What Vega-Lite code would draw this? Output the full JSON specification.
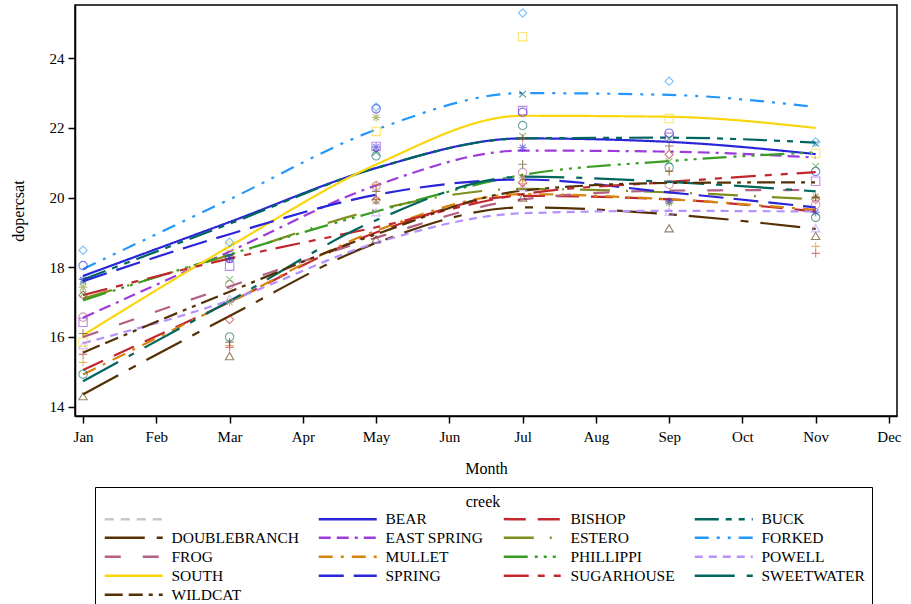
{
  "$schema": "https://vega.github.io/schema/vega-lite/v6.json",
  "width": 822,
  "height": 411,
  "autosize": {"type": "none"},
  "padding": {"left": 75, "top": 5, "right": 14, "bottom": 188},
  "background": "white",
  "config": {
    "view": {"stroke": "black", "strokeWidth": 1.5},
    "font": "Liberation Serif",
    "axis": {
      "labelFont": "Liberation Serif", "titleFont": "Liberation Serif",
      "labelFontSize": 15, "titleFontSize": 16, "titleFontWeight": "normal",
      "domainColor": "black", "tickColor": "black", "labelColor": "black", "titleColor": "black",
      "grid": false, "tickSize": 7, "domainWidth": 1.5, "tickWidth": 1.5
    },
    "legend": {
      "orient": "none", "legendX": 20, "legendY": 482, "columns": 4, "direction": "horizontal",
      "titleAnchor": "middle", "titleFont": "Liberation Serif", "titleFontSize": 16, "titleFontWeight": "normal", "titleColor": "black", "titlePadding": 1,
      "labelFont": "Liberation Serif", "labelFontSize": 15.5, "labelFontWeight": "normal", "labelColor": "black", "labelLimit": 0,
      "symbolType": "M-5.8,0H5.8", "symbolSize": 100, "symbolOffset": 24, "labelOffset": 30, "symbolStrokeWidth": 2.5,
      "strokeColor": "black", "padding": 7, "rowPadding": 2, "columnPadding": 14
    }
  },
  "datasets": {
    "fit": [
      {"creek": "BEAR", "month": 1, "fit": 17.75}, {"creek": "BEAR", "month": 3, "fit": 19.3}, {"creek": "BEAR", "month": 5, "fit": 20.85}, {"creek": "BEAR", "month": 7, "fit": 21.7}, {"creek": "BEAR", "month": 9, "fit": 21.6}, {"creek": "BEAR", "month": 11, "fit": 21.25},
      {"creek": "BISHOP", "month": 1, "fit": 15.05}, {"creek": "BISHOP", "month": 3, "fit": 17.0}, {"creek": "BISHOP", "month": 5, "fit": 19.0}, {"creek": "BISHOP", "month": 7, "fit": 20.05}, {"creek": "BISHOP", "month": 9, "fit": 19.95}, {"creek": "BISHOP", "month": 11, "fit": 19.6},
      {"creek": "BUCK", "month": 1, "fit": 17.65}, {"creek": "BUCK", "month": 3, "fit": 19.25}, {"creek": "BUCK", "month": 5, "fit": 20.85}, {"creek": "BUCK", "month": 7, "fit": 21.7}, {"creek": "BUCK", "month": 9, "fit": 21.72}, {"creek": "BUCK", "month": 11, "fit": 21.58},
      {"creek": "DOUBLEBRANCH", "month": 1, "fit": 14.35}, {"creek": "DOUBLEBRANCH", "month": 3, "fit": 16.6}, {"creek": "DOUBLEBRANCH", "month": 5, "fit": 18.7}, {"creek": "DOUBLEBRANCH", "month": 7, "fit": 19.72}, {"creek": "DOUBLEBRANCH", "month": 9, "fit": 19.52}, {"creek": "DOUBLEBRANCH", "month": 11, "fit": 19.1},
      {"creek": "EAST SPRING", "month": 1, "fit": 16.55}, {"creek": "EAST SPRING", "month": 3, "fit": 18.45}, {"creek": "EAST SPRING", "month": 5, "fit": 20.35}, {"creek": "EAST SPRING", "month": 7, "fit": 21.35}, {"creek": "EAST SPRING", "month": 9, "fit": 21.32}, {"creek": "EAST SPRING", "month": 11, "fit": 21.15},
      {"creek": "ESTERO", "month": 1, "fit": 17.1}, {"creek": "ESTERO", "month": 3, "fit": 18.35}, {"creek": "ESTERO", "month": 5, "fit": 19.65}, {"creek": "ESTERO", "month": 7, "fit": 20.25}, {"creek": "ESTERO", "month": 9, "fit": 20.15}, {"creek": "ESTERO", "month": 11, "fit": 19.95},
      {"creek": "FORKED", "month": 1, "fit": 17.95}, {"creek": "FORKED", "month": 3, "fit": 19.95}, {"creek": "FORKED", "month": 5, "fit": 21.95}, {"creek": "FORKED", "month": 7, "fit": 23.0}, {"creek": "FORKED", "month": 9, "fit": 22.95}, {"creek": "FORKED", "month": 11, "fit": 22.6},
      {"creek": "FROG", "month": 1, "fit": 16.0}, {"creek": "FROG", "month": 3, "fit": 17.45}, {"creek": "FROG", "month": 5, "fit": 18.85}, {"creek": "FROG", "month": 7, "fit": 19.95}, {"creek": "FROG", "month": 9, "fit": 20.2}, {"creek": "FROG", "month": 11, "fit": 20.22},
      {"creek": "MULLET", "month": 1, "fit": 14.92}, {"creek": "MULLET", "month": 3, "fit": 17.0}, {"creek": "MULLET", "month": 5, "fit": 19.05}, {"creek": "MULLET", "month": 7, "fit": 20.1}, {"creek": "MULLET", "month": 9, "fit": 19.95}, {"creek": "MULLET", "month": 11, "fit": 19.65},
      {"creek": "PHILLIPPI", "month": 1, "fit": 17.05}, {"creek": "PHILLIPPI", "month": 3, "fit": 18.37}, {"creek": "PHILLIPPI", "month": 5, "fit": 19.6}, {"creek": "PHILLIPPI", "month": 7, "fit": 20.65}, {"creek": "PHILLIPPI", "month": 9, "fit": 21.05}, {"creek": "PHILLIPPI", "month": 11, "fit": 21.3},
      {"creek": "POWELL", "month": 1, "fit": 15.82}, {"creek": "POWELL", "month": 3, "fit": 17.05}, {"creek": "POWELL", "month": 5, "fit": 18.7}, {"creek": "POWELL", "month": 7, "fit": 19.55}, {"creek": "POWELL", "month": 9, "fit": 19.62}, {"creek": "POWELL", "month": 11, "fit": 19.6},
      {"creek": "SOUTH", "month": 1, "fit": 16.05}, {"creek": "SOUTH", "month": 3, "fit": 18.6}, {"creek": "SOUTH", "month": 5, "fit": 20.95}, {"creek": "SOUTH", "month": 7, "fit": 22.35}, {"creek": "SOUTH", "month": 9, "fit": 22.32}, {"creek": "SOUTH", "month": 11, "fit": 22.0},
      {"creek": "SPRING", "month": 1, "fit": 17.6}, {"creek": "SPRING", "month": 3, "fit": 18.95}, {"creek": "SPRING", "month": 5, "fit": 20.08}, {"creek": "SPRING", "month": 7, "fit": 20.52}, {"creek": "SPRING", "month": 9, "fit": 20.15}, {"creek": "SPRING", "month": 11, "fit": 19.72},
      {"creek": "SUGARHOUSE", "month": 1, "fit": 17.2}, {"creek": "SUGARHOUSE", "month": 3, "fit": 18.25}, {"creek": "SUGARHOUSE", "month": 5, "fit": 19.15}, {"creek": "SUGARHOUSE", "month": 7, "fit": 20.1}, {"creek": "SUGARHOUSE", "month": 9, "fit": 20.45}, {"creek": "SUGARHOUSE", "month": 11, "fit": 20.73},
      {"creek": "SWEETWATER", "month": 1, "fit": 14.73}, {"creek": "SWEETWATER", "month": 3, "fit": 17.03}, {"creek": "SWEETWATER", "month": 5, "fit": 19.35}, {"creek": "SWEETWATER", "month": 7, "fit": 20.6}, {"creek": "SWEETWATER", "month": 9, "fit": 20.45}, {"creek": "SWEETWATER", "month": 11, "fit": 20.18},
      {"creek": "WILDCAT", "month": 1, "fit": 15.55}, {"creek": "WILDCAT", "month": 3, "fit": 17.3}, {"creek": "WILDCAT", "month": 5, "fit": 18.95}, {"creek": "WILDCAT", "month": 7, "fit": 20.2}, {"creek": "WILDCAT", "month": 9, "fit": 20.42}, {"creek": "WILDCAT", "month": 11, "fit": 20.44}
    ],
    "obs": [
      {"creek": "BEAR", "month": 1, "v": 18.05}, {"creek": "BEAR", "month": 3, "v": 18.25}, {"creek": "BEAR", "month": 5, "v": 22.55}, {"creek": "BEAR", "month": 7, "v": 22.45}, {"creek": "BEAR", "month": 9, "v": 21.85}, {"creek": "BEAR", "month": 11, "v": 20.75},
      {"creek": "BISHOP", "month": 1, "v": 15.5}, {"creek": "BISHOP", "month": 3, "v": 15.7}, {"creek": "BISHOP", "month": 5, "v": 19.95}, {"creek": "BISHOP", "month": 7, "v": 21.7}, {"creek": "BISHOP", "month": 9, "v": 20.75}, {"creek": "BISHOP", "month": 11, "v": 18.4},
      {"creek": "BUCK", "month": 1, "v": 17.6}, {"creek": "BUCK", "month": 3, "v": 18.3}, {"creek": "BUCK", "month": 5, "v": 21.3}, {"creek": "BUCK", "month": 7, "v": 22.97}, {"creek": "BUCK", "month": 9, "v": 21.7}, {"creek": "BUCK", "month": 11, "v": 21.55},
      {"creek": "DOUBLEBRANCH", "month": 1, "v": 14.3}, {"creek": "DOUBLEBRANCH", "month": 3, "v": 15.45}, {"creek": "DOUBLEBRANCH", "month": 5, "v": 18.8}, {"creek": "DOUBLEBRANCH", "month": 7, "v": 20.0}, {"creek": "DOUBLEBRANCH", "month": 9, "v": 19.12}, {"creek": "DOUBLEBRANCH", "month": 11, "v": 18.9},
      {"creek": "EAST SPRING", "month": 1, "v": 16.42}, {"creek": "EAST SPRING", "month": 3, "v": 18.03}, {"creek": "EAST SPRING", "month": 5, "v": 21.47}, {"creek": "EAST SPRING", "month": 7, "v": 22.5}, {"creek": "EAST SPRING", "month": 9, "v": 21.73}, {"creek": "EAST SPRING", "month": 11, "v": 20.47},
      {"creek": "ESTERO", "month": 1, "v": 17.43}, {"creek": "ESTERO", "month": 3, "v": 17.0}, {"creek": "ESTERO", "month": 5, "v": 22.3}, {"creek": "ESTERO", "month": 7, "v": 20.57}, {"creek": "ESTERO", "month": 9, "v": 19.85}, {"creek": "ESTERO", "month": 11, "v": 20.03},
      {"creek": "FORKED", "month": 1, "v": 18.49}, {"creek": "FORKED", "month": 3, "v": 18.72}, {"creek": "FORKED", "month": 5, "v": 22.6}, {"creek": "FORKED", "month": 7, "v": 25.3}, {"creek": "FORKED", "month": 9, "v": 23.34}, {"creek": "FORKED", "month": 11, "v": 21.6},
      {"creek": "FROG", "month": 1, "v": 16.57}, {"creek": "FROG", "month": 3, "v": 17.5}, {"creek": "FROG", "month": 5, "v": 20.33}, {"creek": "FROG", "month": 7, "v": 20.72}, {"creek": "FROG", "month": 9, "v": 20.38}, {"creek": "FROG", "month": 11, "v": 19.8},
      {"creek": "MULLET", "month": 1, "v": 15.27}, {"creek": "MULLET", "month": 3, "v": 15.75}, {"creek": "MULLET", "month": 5, "v": 20.38}, {"creek": "MULLET", "month": 7, "v": 20.4}, {"creek": "MULLET", "month": 9, "v": 20.76}, {"creek": "MULLET", "month": 11, "v": 18.6},
      {"creek": "PHILLIPPI", "month": 1, "v": 17.23}, {"creek": "PHILLIPPI", "month": 3, "v": 17.65}, {"creek": "PHILLIPPI", "month": 5, "v": 19.9}, {"creek": "PHILLIPPI", "month": 7, "v": 21.76}, {"creek": "PHILLIPPI", "month": 9, "v": 21.04}, {"creek": "PHILLIPPI", "month": 11, "v": 20.9},
      {"creek": "POWELL", "month": 1, "v": 15.76}, {"creek": "POWELL", "month": 3, "v": 17.1}, {"creek": "POWELL", "month": 5, "v": 19.58}, {"creek": "POWELL", "month": 7, "v": 20.3}, {"creek": "POWELL", "month": 9, "v": 19.6}, {"creek": "POWELL", "month": 11, "v": 19.12},
      {"creek": "SOUTH", "month": 1, "v": 15.85}, {"creek": "SOUTH", "month": 3, "v": 18.6}, {"creek": "SOUTH", "month": 5, "v": 21.9}, {"creek": "SOUTH", "month": 7, "v": 24.62}, {"creek": "SOUTH", "month": 9, "v": 22.27}, {"creek": "SOUTH", "month": 11, "v": 21.27},
      {"creek": "SPRING", "month": 1, "v": 17.65}, {"creek": "SPRING", "month": 3, "v": 18.25}, {"creek": "SPRING", "month": 5, "v": 21.45}, {"creek": "SPRING", "month": 7, "v": 21.44}, {"creek": "SPRING", "month": 9, "v": 19.9}, {"creek": "SPRING", "month": 11, "v": 19.58},
      {"creek": "SUGARHOUSE", "month": 1, "v": 17.2}, {"creek": "SUGARHOUSE", "month": 3, "v": 16.5}, {"creek": "SUGARHOUSE", "month": 5, "v": 19.93}, {"creek": "SUGARHOUSE", "month": 7, "v": 20.43}, {"creek": "SUGARHOUSE", "month": 9, "v": 21.24}, {"creek": "SUGARHOUSE", "month": 11, "v": 19.95},
      {"creek": "SWEETWATER", "month": 1, "v": 14.93}, {"creek": "SWEETWATER", "month": 3, "v": 16.0}, {"creek": "SWEETWATER", "month": 5, "v": 21.2}, {"creek": "SWEETWATER", "month": 7, "v": 22.07}, {"creek": "SWEETWATER", "month": 9, "v": 20.87}, {"creek": "SWEETWATER", "month": 11, "v": 19.43},
      {"creek": "WILDCAT", "month": 1, "v": 16.1}, {"creek": "WILDCAT", "month": 3, "v": 15.85}, {"creek": "WILDCAT", "month": 5, "v": 20.18}, {"creek": "WILDCAT", "month": 7, "v": 20.96}, {"creek": "WILDCAT", "month": 9, "v": 21.48}, {"creek": "WILDCAT", "month": 11, "v": 20.0}
    ]
  },
  "layer": [
    {
      "data": {"name": "fit"},
      "mark": {"type": "line", "interpolate": "monotone", "strokeWidth": 2.2},
      "encoding": {
        "x": {
          "field": "month", "type": "quantitative",
          "scale": {"domain": [0.89, 12.11], "nice": false, "zero": false},
          "axis": {"values": [1,2,3,4,5,6,7,8,9,10,11,12], "labelExpr": "['','Jan','Feb','Mar','Apr','May','Jun','Jul','Aug','Sep','Oct','Nov','Dec'][datum.value]", "title": "Month", "labelPadding": 6, "titlePadding": 16}
        },
        "y": {
          "field": "fit", "type": "quantitative",
          "scale": {"domain": [13.73, 25.53], "nice": false, "zero": false},
          "axis": {"values": [14,16,18,20,22,24], "title": "dopercsat", "labelPadding": 4, "titlePadding": 23}
        },
        "color": {
          "field": "creek", "type": "nominal",
          "scale": {
            "domain": ["", "BEAR", "BISHOP", "BUCK", "DOUBLEBRANCH", "EAST SPRING", "ESTERO", "FORKED", "FROG", "MULLET", "PHILLIPPI", "POWELL", "SOUTH", "SPRING", "SUGARHOUSE", "SWEETWATER", "WILDCAT"],
            "range": ["#c8c8c8", "#2a25d9", "#c1272d", "#01665e", "#543005", "#9d3cdb", "#7f8e1f", "#2597fa", "#b26084", "#d8830d", "#3a9d23", "#b691fe", "#fbd60f", "#2a25d9", "#c1272d", "#01665e", "#543005"]
          },
          "legend": {"title": "creek"}
        },
        "strokeDash": {
          "field": "creek", "type": "nominal",
          "scale": {
            "domain": ["", "BEAR", "BISHOP", "BUCK", "DOUBLEBRANCH", "EAST SPRING", "ESTERO", "FORKED", "FROG", "MULLET", "PHILLIPPI", "POWELL", "SOUTH", "SPRING", "SUGARHOUSE", "SWEETWATER", "WILDCAT"],
            "range": [[9,7], [1,0], [22,12], [24,7,6,7,6,7], [40,12,8,12], [12,6,12,6,3,6], [30,16,2,16], [14,8,3,8,3,8], [16,22], [14,8,3,8], [24,7,3,6,3,6,3,6], [8,6], [1,0], [25,10], [25,9,7,9,7,9], [40,12,6,12], [18,6,14,6,4,6,4,6]]
          },
          "legend": {"title": "creek"}
        }
      }
    },
    {
      "data": {"name": "obs"},
      "mark": {"type": "point", "filled": false, "size": 70, "strokeWidth": 1.1, "opacity": 0.6},
      "encoding": {
        "x": {"field": "month", "type": "quantitative"},
        "y": {"field": "v", "type": "quantitative"},
        "color": {
          "field": "creek", "type": "nominal",
          "scale": {
            "domain": ["BEAR", "BISHOP", "BUCK", "DOUBLEBRANCH", "EAST SPRING", "ESTERO", "FORKED", "FROG", "MULLET", "PHILLIPPI", "POWELL", "SOUTH", "SPRING", "SUGARHOUSE", "SWEETWATER", "WILDCAT"],
            "range": ["#2a25d9", "#c1272d", "#01665e", "#543005", "#9d3cdb", "#7f8e1f", "#2597fa", "#b26084", "#d8830d", "#3a9d23", "#b691fe", "#fbd60f", "#2a25d9", "#c1272d", "#01665e", "#543005"]
          },
          "legend": null
        },
        "shape": {
          "field": "creek", "type": "nominal",
          "scale": {
            "domain": ["BEAR", "BISHOP", "BUCK", "DOUBLEBRANCH", "EAST SPRING", "ESTERO", "FORKED", "FROG", "MULLET", "PHILLIPPI", "POWELL", "SOUTH", "SPRING", "SUGARHOUSE", "SWEETWATER", "WILDCAT"],
            "range": ["circle", "M-1,0H1M0,-1V1", "M-0.8,-0.8L0.8,0.8M-0.8,0.8L0.8,-0.8", "triangle-up", "square", "M-1,0H1M0,-1V1M-0.7,-0.7L0.7,0.7M-0.7,0.7L0.7,-0.7", "diamond", "circle", "M-1,0H1M0,-1V1", "M-0.8,-0.8L0.8,0.8M-0.8,0.8L0.8,-0.8", "triangle-up", "square", "M-1,0H1M0,-1V1M-0.7,-0.7L0.7,0.7M-0.7,0.7L0.7,-0.7", "diamond", "circle", "M-1,0H1M0,-1V1"]
          },
          "legend": null
        }
      }
    }
  ],
  "resolve": {
    "scale": {"color": "independent", "shape": "independent", "strokeDash": "independent"},
    "legend": {"color": "independent", "strokeDash": "independent", "shape": "independent"}
  }
}
